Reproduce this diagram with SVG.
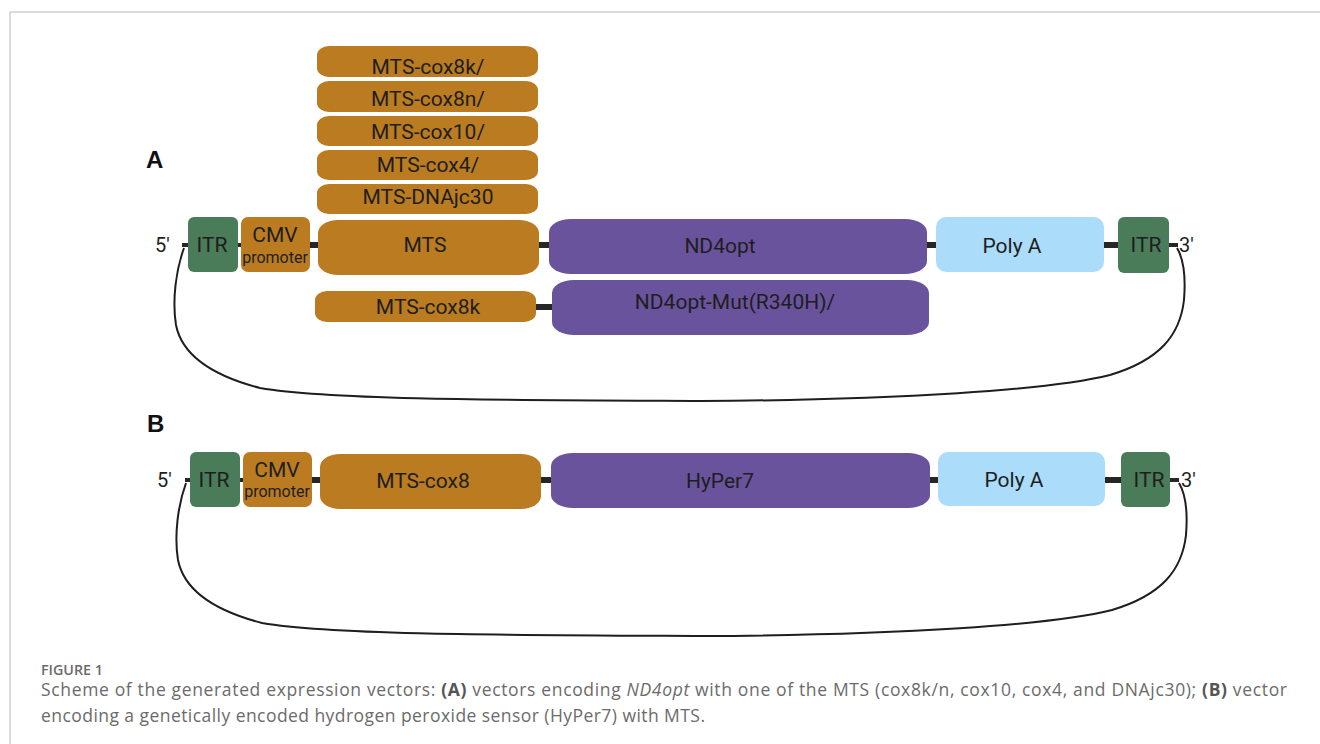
<svg xmlns="http://www.w3.org/2000/svg" width="1320" height="744" viewBox="0 0 1320 744">
  <style>
    .itr { fill: #4a7c59; }
    .cmv { fill: #ba7b21; }
    .mts { fill: #ba7b21; }
    .gene { fill: #6a539d; }
    .polya { fill: #abdcfa; }
    .lbl { font-family: Roboto, "Liberation Sans", sans-serif; font-size: 21px; fill: #1e1e1e; text-anchor: middle; }
    .small { font-size: 16px; }
    .end { font-family: Roboto, "Liberation Sans", sans-serif; font-size: 20px; fill: #1e1e1e; }
    .panel { font-family: "Liberation Sans", Arial, sans-serif; font-size: 24px; font-weight: bold; fill: #111; }
    .bb { stroke: #262626; stroke-width: 6; fill: none; }
    .bbthin { stroke: #262626; stroke-width: 4; fill: none; }
    .loop { stroke: #1e1e1e; stroke-width: 2; fill: none; }
    .cap { font-family: "Open Sans", "Liberation Sans", sans-serif; fill: #6b6b6b; }
  </style>

  <!-- page frame -->
  <g id="frame">
    <line x1="10" y1="12" x2="1320" y2="12" stroke="#cfcfcf" stroke-width="1.5"/>
    <line x1="10" y1="12" x2="10" y2="744" stroke="#cfcfcf" stroke-width="1.5"/>
  </g>

  <!-- backbones and vector loops -->
  <g id="connectors">
    <!-- panel A backbone -->
    <line class="bbthin" x1="182" y1="245" x2="189" y2="245"/>
    <line class="bbthin" x1="237" y1="245" x2="242" y2="245"/>
    <line class="bb" x1="309" y1="245" x2="319" y2="245"/>
    <line class="bb" x1="538" y1="245" x2="550" y2="245"/>
    <line class="bb" x1="926" y1="245" x2="937" y2="245"/>
    <line class="bb" x1="1103" y1="245" x2="1119" y2="245"/>
    <line class="bbthin" x1="1168" y1="245" x2="1178" y2="245"/>
    <line class="bb" x1="535" y1="307" x2="553" y2="307"/>
    <path class="loop" d="M184,248 C176,270 172,300 176,325 C182,355 210,375 260,388 C330,400 500,400 700,401 C900,400 1050,390 1110,375 C1160,360 1180,335 1184,300 C1186,275 1183,258 1177,248"/>

    <!-- panel B backbone -->
    <line class="bbthin" x1="185" y1="480" x2="191" y2="480"/>
    <line class="bbthin" x1="239" y1="480" x2="244" y2="480"/>
    <line class="bb" x1="311" y1="480" x2="321" y2="480"/>
    <line class="bb" x1="540" y1="480" x2="552" y2="480"/>
    <line class="bb" x1="929" y1="480" x2="939" y2="480"/>
    <line class="bb" x1="1104" y1="480" x2="1122" y2="480"/>
    <line class="bbthin" x1="1169" y1="480" x2="1179" y2="480"/>
    <path class="loop" transform="translate(2,235)" d="M184,248 C176,270 172,300 176,325 C182,355 210,375 260,388 C330,400 500,400 700,401 C900,400 1050,390 1110,375 C1160,360 1180,335 1184,300 C1186,275 1183,258 1177,248"/>
  </g>

  <!-- panel A -->
  <text class="panel" x="146" y="168">A</text>
  <text class="end" x="155" y="252">5'</text>
  <text class="end" x="1179" y="252">3'</text>

  <g id="a-mts-cox8k-alt">
    <rect class="mts" x="317" y="46" width="221" height="31" rx="12" ry="9"/>
    <text class="lbl" x="428" y="74">MTS-cox8k/</text>
  </g>
  <g id="a-mts-cox8n">
    <rect class="mts" x="317" y="81" width="221" height="31" rx="12" ry="9"/>
    <text class="lbl" x="428" y="106">MTS-cox8n/</text>
  </g>
  <g id="a-mts-cox10">
    <rect class="mts" x="317" y="116" width="221" height="30" rx="12" ry="9"/>
    <text class="lbl" x="428" y="139">MTS-cox10/</text>
  </g>
  <g id="a-mts-cox4">
    <rect class="mts" x="317" y="150" width="221" height="30" rx="12" ry="9"/>
    <text class="lbl" x="428" y="172">MTS-cox4/</text>
  </g>
  <g id="a-mts-dnajc30">
    <rect class="mts" x="317" y="184" width="221" height="30" rx="12" ry="9"/>
    <text class="lbl" x="428" y="204">MTS-DNAjc30</text>
  </g>

  <g id="a-itr-5">
    <rect class="itr" x="188" y="217" width="50" height="55" rx="6"/>
    <text class="lbl" x="212" y="252">ITR</text>
  </g>
  <g id="a-cmv">
    <rect class="cmv" x="241" y="217" width="69" height="55" rx="7"/>
    <text class="lbl" x="275" y="242">CMV</text>
    <text class="lbl small" x="275" y="263">promoter</text>
  </g>
  <g id="a-mts">
    <rect class="mts" x="318" y="220" width="221" height="55" rx="20" ry="13"/>
    <text class="lbl" x="425" y="252">MTS</text>
  </g>
  <g id="a-nd4opt">
    <rect class="gene" x="549" y="219" width="378" height="55" rx="22" ry="13"/>
    <text class="lbl" x="720" y="253">ND4opt</text>
  </g>
  <g id="a-polya">
    <rect class="polya" x="936" y="217" width="168" height="55" rx="10"/>
    <text class="lbl" x="1012" y="253">Poly A</text>
  </g>
  <g id="a-itr-3">
    <rect class="itr" x="1118" y="217" width="51" height="56" rx="6"/>
    <text class="lbl" x="1146" y="252">ITR</text>
  </g>
  <g id="a-mts-cox8k">
    <rect class="mts" x="315" y="291" width="221" height="31" rx="12" ry="9"/>
    <text class="lbl" x="428" y="314">MTS-cox8k</text>
  </g>
  <g id="a-nd4opt-mut">
    <rect class="gene" x="552" y="280" width="377" height="55" rx="22" ry="13"/>
    <text class="lbl" x="735" y="309">ND4opt-Mut(R340H)/</text>
  </g>

  <!-- panel B -->
  <text class="panel" x="147" y="432">B</text>
  <text class="end" x="157" y="487">5'</text>
  <text class="end" x="1181" y="487">3'</text>

  <g id="b-itr-5">
    <rect class="itr" x="190" y="452" width="50" height="55" rx="6"/>
    <text class="lbl" x="214" y="487">ITR</text>
  </g>
  <g id="b-cmv">
    <rect class="cmv" x="243" y="452" width="69" height="55" rx="7"/>
    <text class="lbl" x="277" y="477">CMV</text>
    <text class="lbl small" x="277" y="497">promoter</text>
  </g>
  <g id="b-mts-cox8">
    <rect class="mts" x="320" y="454" width="221" height="55" rx="20" ry="13"/>
    <text class="lbl" x="423" y="488">MTS-cox8</text>
  </g>
  <g id="b-hyper7">
    <rect class="gene" x="551" y="453" width="379" height="55" rx="22" ry="13"/>
    <text class="lbl" x="720" y="488">HyPer7</text>
  </g>
  <g id="b-polya">
    <rect class="polya" x="938" y="452" width="167" height="54" rx="10"/>
    <text class="lbl" x="1014" y="487">Poly A</text>
  </g>
  <g id="b-itr-3">
    <rect class="itr" x="1121" y="452" width="49" height="55" rx="6"/>
    <text class="lbl" x="1149" y="487">ITR</text>
  </g>

  <!-- caption -->
  <g id="caption">
    <text class="cap" x="41" y="675" font-size="13.5" font-weight="600" fill="#777" textLength="62" lengthAdjust="spacingAndGlyphs">FIGURE 1</text>
    <text class="cap" x="41" y="696" font-size="17.5" textLength="1246" lengthAdjust="spacing">Scheme of the generated expression vectors: <tspan font-weight="bold" fill="#555">(A)</tspan> vectors encoding <tspan font-style="italic">ND4opt</tspan> with one of the MTS (cox8k/n, cox10, cox4, and DNAjc30); <tspan font-weight="bold" fill="#555">(B)</tspan> vector</text>
    <text class="cap" x="41" y="722" font-size="17.5" textLength="664" lengthAdjust="spacing">encoding a genetically encoded hydrogen peroxide sensor (HyPer7) with MTS.</text>
  </g>
</svg>
